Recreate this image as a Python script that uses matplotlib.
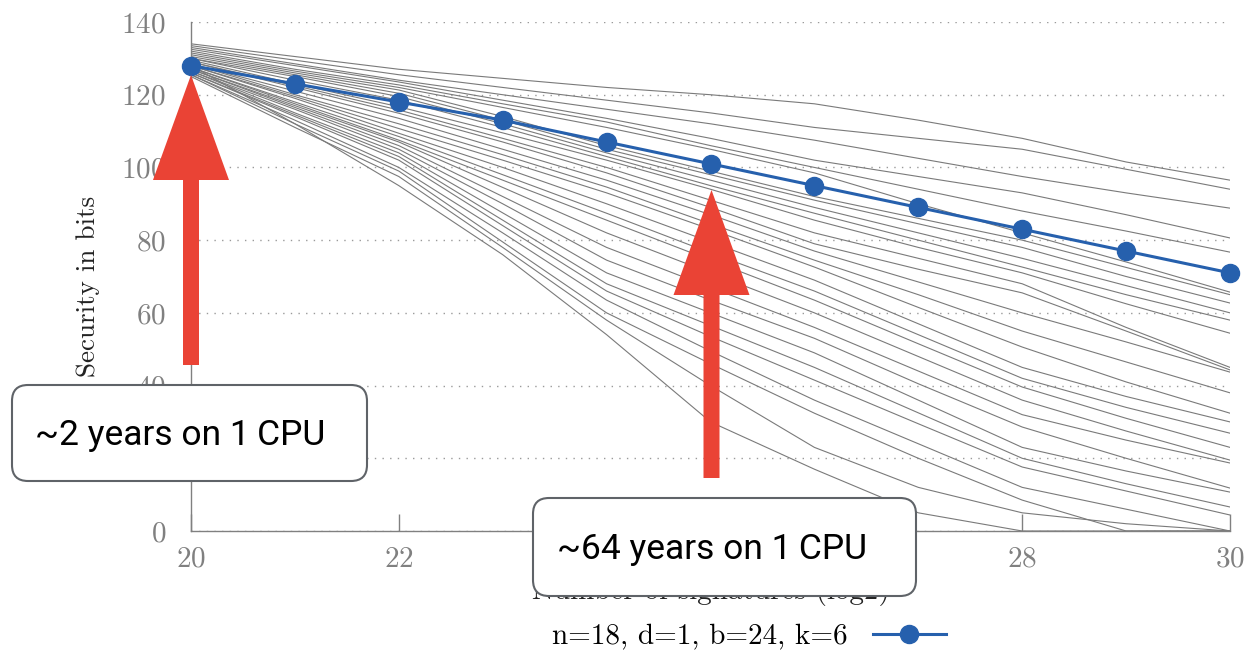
import matplotlib
matplotlib.use("Agg")
import matplotlib.pyplot as plt
import matplotlib.transforms as mtransforms
from matplotlib.patches import FancyArrow, FancyBboxPatch

plt.rcParams['axes.formatter.use_mathtext'] = True

# --- data ---
log_signatures = [20, 21, 22, 23, 24, 25, 26, 27, 28, 29, 30]
chosen_label = "n=18, d=1, b=24, k=6"
chosen_bits = [128, 123, 118, 113, 107, 101, 95, 89, 83, 77, 71]

# the other parameter sets (gray)
other_bits = [
    [134, 130.5, 127, 124.5, 122, 120, 117.5, 113, 108, 101.5, 96.5],
    [133.5, 129.5, 125.5, 122, 118.5, 115, 111, 108, 105, 99.5, 94],
    [133, 128.5, 124, 120, 116, 112, 107.5, 102.5, 97.5, 93, 88.8],
    [132.5, 128, 123.5, 118.5, 113.5, 108, 102, 97.5, 93, 87, 80.6],
    [132, 127, 122.7, 117.5, 112.5, 106, 100, 94, 88, 82.5, 76.7],
    [131.5, 126.5, 122, 116.5, 111, 105, 98.5, 90, 82, 74, 65.7],
    [131, 126, 121.3, 114, 106, 99, 92, 86, 80, 72.5, 65],
    [130.5, 125.5, 120.4, 113, 105, 98, 91, 84.5, 78, 70, 62.7],
    [130, 125, 119.5, 112, 104, 96.5, 89, 82, 75, 67.5, 60],
    [130, 124, 118.5, 111, 103, 95, 87.4, 80, 72.6, 65, 58],
    [129.5, 123, 116.7, 109.5, 102, 94, 85.5, 78, 71, 62.5, 54.4],
    [129, 122.5, 115.8, 108, 100, 91, 82, 75, 68, 56, 45],
    [129, 122, 114.9, 107, 98.5, 89, 79, 72, 65.5, 55, 44.3],
    [128.5, 121, 113.5, 105, 96.5, 87, 77, 68.5, 60, 52, 43.7],
    [128.5, 120, 112, 103.5, 94.6, 84.5, 74.5, 65, 55, 46.5, 38],
    [128, 119.5, 110.7, 102, 93, 83, 72.6, 61.5, 50.6, 41, 32.4],
    [128, 119, 109.4, 100, 90, 79.5, 69, 57, 45, 37, 30],
    [127.5, 118, 108.5, 98, 87.4, 76.5, 66, 54, 42, 34, 26.9],
    [127.5, 117.5, 107.5, 96.5, 85.5, 74.5, 63.5, 51.5, 39.6, 31, 23],
    [127, 117, 107, 94.5, 82, 71, 60, 48, 36, 27.5, 19.5],
    [127, 116.5, 106, 92, 78, 67, 56, 44, 32, 25, 18.7],
    [126.5, 116, 105, 90, 74.5, 63.5, 53, 40.5, 28.6, 20, 11.8],
    [126.5, 115, 104, 87.5, 71, 60, 49, 36, 23, 16.5, 10.7],
    [126, 114.5, 103, 85.5, 68, 56.5, 45, 32.5, 20, 13, 6.6],
    [126, 114, 102, 84, 66, 53.5, 41.5, 29.5, 17.6, 11, 4.4],
    [125.5, 113, 100, 82, 63.5, 49.5, 36, 24, 12, 6, 0],
    [125.5, 112, 99, 79.5, 60, 46, 32.4, 20, 8.5, 0, 0],
    [125, 111, 97.5, 78, 58, 40, 23, 12, 5, 2, 0],
    [128, 112, 95, 76, 54, 30, 17, 5, 0, 0, 0],
]

x_ticks = [20, 22, 24, 26, 28, 30]
y_ticks = [0, 20, 40, 60, 80, 100, 120, 140]

callouts = ["~2 years on 1\u2009CPU", "~64 years on 1\u2009CPU"]

gray = '#808080'
blue = '#2660ad'
red = '#ea4335'

fig = plt.figure(figsize=(12.51, 6.55), dpi=100)
ax = fig.add_axes([191 / 1251, 1 - 531 / 655, 1039 / 1251, 509 / 655])

for ys in other_bits:
    ax.plot(log_signatures, ys, color='#7a7a7a', lw=0.8, zorder=2)

ax.plot(log_signatures, chosen_bits, color=blue, lw=2.2, marker='o', markersize=13,
        clip_on=False, zorder=4, label=chosen_label)

ax.set_xlim(20, 30)
ax.set_ylim(0, 140)
ax.set_xticks(x_ticks)
ax.set_yticks(y_ticks)
ax.grid(axis='y', linestyle=(0, (1, 4.5)), color='#9a9a9a', lw=1)
ax.set_axisbelow(True)
for s in ['top', 'right']:
    ax.spines[s].set_visible(False)
for s in ['left', 'bottom']:
    ax.spines[s].set_color(gray)
    ax.spines[s].set_linewidth(1)
ax.tick_params(axis='x', direction='in', length=12, width=1, color=gray, pad=11,
               labelcolor=gray, labelsize=21)
ax.tick_params(axis='y', length=0, pad=18, labelcolor=gray, labelsize=21)
for lab in ax.get_xticklabels() + ax.get_yticklabels():
    lab.set_fontfamily('cmr10')

ax.set_ylabel('Security in bits', fontfamily='cmr10', fontsize=19.5, color='#222222')
ax.yaxis.set_label_coords(-0.088, 0.48)
ax.set_xlabel('Number of signatures (log2)', fontfamily='cmr10', fontsize=21, color='#222222', labelpad=3)

leg = fig.legend(loc='center', bbox_to_anchor=(749 / 1251, 1 - 637 / 655), frameon=False,
                 markerfirst=False, handlelength=2.5, handletextpad=0.85,
                 prop={'family': 'cmr10', 'size': 21})

# pixel coordinates (origin bottom left)
px = mtransforms.Affine2D().scale(1 / 100) + fig.dpi_scale_trans
H = 655

# red arrows
for x, tail, tip in [(191, 365, 75), (711.5, 478, 190)]:
    fig.add_artist(FancyArrow(x, H - tail, 0, tail - tip, width=16, head_width=76,
                              head_length=105, length_includes_head=True,
                              color=red, lw=0, transform=px, zorder=6))

# callout boxes
boxes = [(12, 385, 355, 96, 35), (533, 498, 383, 98, 557)]
for (bx, by, bw, bh, tx), txt in zip(boxes, callouts):
    fig.add_artist(FancyBboxPatch((bx + 16, H - by - bh + 16), bw - 32, bh - 32,
                                  boxstyle='round,pad=16', fc='white', ec='#5f6368',
                                  lw=1.5, transform=px, zorder=7))
    fig.text(tx, H - by - bh / 2 - 3, txt, transform=px, va='center', ha='left',
             family=['Roboto', 'DejaVu Sans'], fontsize=25.5, color='black', zorder=8)

fig.savefig('out.png', dpi=100)
